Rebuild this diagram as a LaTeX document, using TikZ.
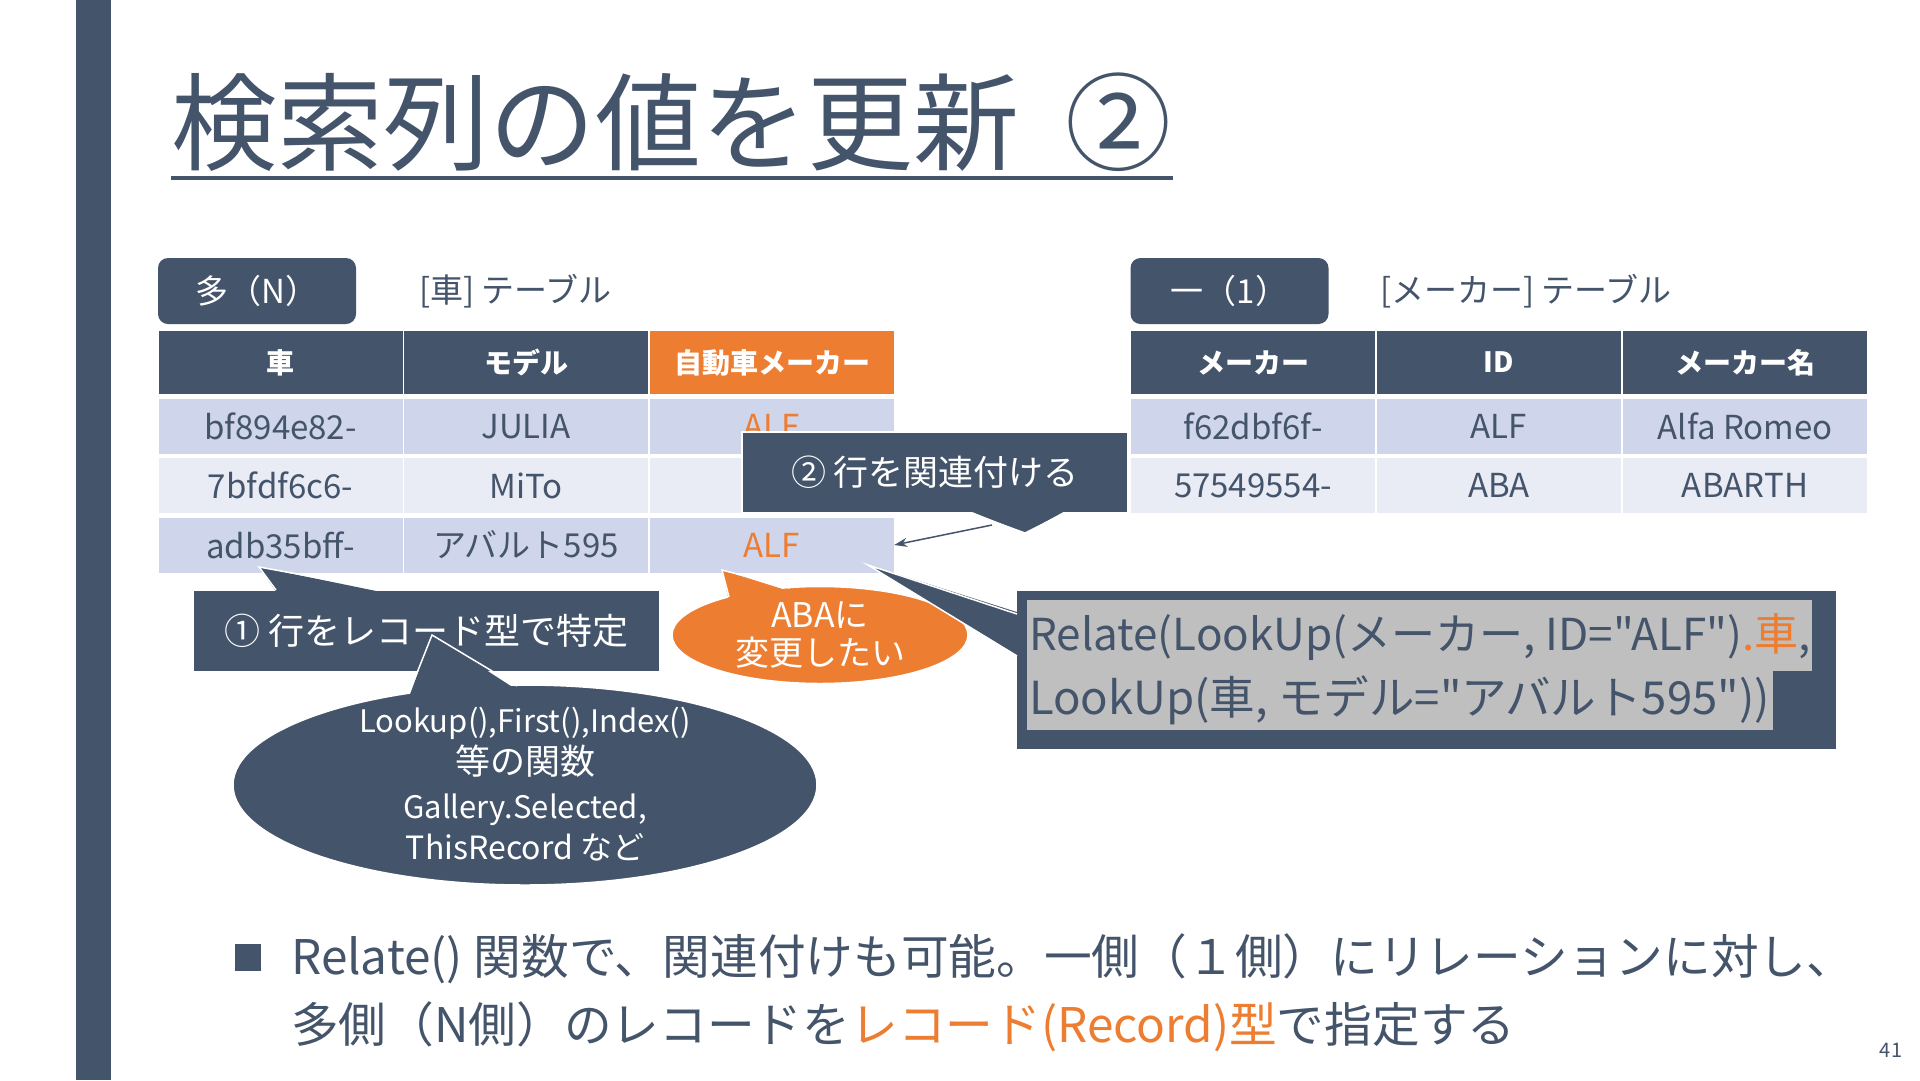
\documentclass[tikz,border=0pt]{standalone}
\usepackage{fontspec}
\setmainfont{Noto Sans CJK JP}
\newfontfamily\codefont{Noto Sans CJK JP}
\usetikzlibrary{shapes.geometric,arrows.meta}
\definecolor{slate}{HTML}{44546A}
\definecolor{accent}{HTML}{ED7D31}
\definecolor{rowA}{HTML}{CFD5EA}
\definecolor{rowB}{HTML}{E9EBF5}
\definecolor{hilite}{HTML}{BFBFBF}
\newcommand\fsz[1]{\fontsize{#1}{#1}\selectfont}
\begin{document}
\begin{tikzpicture}[x=1pt,y=-1pt,
  hdr/.style={rectangle,inner sep=0,minimum width=244,minimum height=63,fill=slate,text=white,font=\fsz{28}\bfseries},
  cellA/.style={rectangle,inner sep=0,minimum width=244,minimum height=55,fill=rowA,text=slate,font=\fsz{33}},
  cellB/.style={cellA,fill=rowB},
  tagbox/.style={rectangle,rounded corners=10,inner sep=0,minimum width=198,minimum height=66,fill=slate,text=white,font=\fsz{33}},
  caption/.style={anchor=west,inner sep=0,text=slate,font=\fsz{33}},
  callbox/.style={rectangle,inner sep=0,fill=slate,draw=white,line width=1.5,text=white},
  outl/.style={draw=white,line width=1.5},
  bodytext/.style={anchor=west,inner sep=0,text=slate,font=\fsz{47.7}},
  codetext/.style={anchor=west,inner sep=0,text=slate,font=\codefont\fsz{44}},
  ell/.style={ellipse,inner sep=0,draw=white,line width=1.5}
]
\useasboundingbox (0,0) rectangle (1920,1080);
\fill[white] (0,0) rectangle (1920,1080);
\fill[slate] (76,0) rectangle (111,1080);

% title
\node[anchor=base west,inner sep=0,text=slate,font=\fsz{106}] (title) at (171,162) {検索列の値を更新\hspace{46pt}②};
\draw[slate,line width=4] (171,178) -- (1173,178);

% tags and captions
\node[tagbox] (tagN) at (257,291) {多（N）};
\node[caption] (capL) at (419,291) {[車] テーブル};
\node[tagbox] (tag1) at (1229.5,291) {一（1）};
\node[caption] (capR) at (1380,291) {[メーカー] テーブル};

% left table
\node[hdr] (L1) at (280.5,362.5) {車};
\node[hdr] (L2) at (526,362.5) {モデル};
\node[hdr,fill=accent] (L3) at (772,362.5) {自動車メーカー};
\node[cellA] (L11) at (280.5,426.5) {bf894e82-};
\node[cellA] (L12) at (526,426.5) {JULIA};
\node[cellA,text=accent] (L13) at (772,426.5) {ALF};
\node[cellB] (L21) at (280.5,485.5) {7bfdf6c6-};
\node[cellB] (L22) at (526,485.5) {MiTo};
\node[cellB] (L23) at (772,485.5) {};
\node[cellA] (L31) at (280.5,545) {adb35bff-};
\node[cellA] (L32) at (526,545) {アバルト595};
\node[cellA,text=accent] (L33) at (772,545) {ALF};

% right table
\node[hdr] (R1) at (1253,362.5) {メーカー};
\node[hdr] (R2) at (1499,362.5) {ID};
\node[hdr] (R3) at (1745,362.5) {メーカー名};
\node[cellA] (R11) at (1253,426.5) {f62dbf6f-};
\node[cellA] (R12) at (1499,426.5) {ALF};
\node[cellA] (R13) at (1745,426.5) {Alfa Romeo};
\node[cellB] (R21) at (1253,485.5) {57549554-};
\node[cellB] (R22) at (1499,485.5) {ABA};
\node[cellB] (R23) at (1745,485.5) {ABARTH};

% callout 2
\node[callbox,minimum width=386,minimum height=81,font=\fsz{35}] (c2) at (935,472.5) {② 行を関連付ける};
\fill[slate] (970,511) -- (1025,533) -- (1065,511) -- cycle;
\draw[outl] (970,513) -- (1025,533) -- (1065,513);
\coordinate (a2s) at (992,525);
\draw[slate,line width=1.5,-{Stealth[length=13,width=9]}] (a2s) -- (L33.east);

% orange ellipse
\node[ell,fill=accent,minimum width=296,minimum height=97,text=white,font=\fsz{34},align=center] (ob) at (820,635) {ABAに\\[4pt]変更したい};
\fill[accent] (729,601) -- (722,570) -- (792,592) -- cycle;
\draw[outl] (729,597) -- (722,570) -- (790,588);

% Relate box
\node[callbox,minimum width=821,minimum height=160] (rb) at (1426.5,670) {};
\fill[slate] (1020,613) -- (868,565) -- (1020,657) -- cycle;
\draw[outl] (1017,614) -- (868,565) -- (1017,656);
\fill[hilite] (1027,600) rectangle (1812,671);
\fill[hilite] (1027,671) rectangle (1773,730);
\node[codetext] (rl1) at (1029,637) {Relate(LookUp(メーカー, ID="ALF")\textcolor{accent}{.車},};
\node[codetext,font=\codefont\fsz{45.5}] (rl2) at (1029,700) {LookUp(車, モデル="アバルト595"))};

% callout 1
\node[callbox,minimum width=467,minimum height=82,font=\fsz{36}] (c1) at (426.5,631) {① 行をレコード型で特定};
\fill[slate] (277,593) -- (259,567) -- (386,593) -- cycle;
\draw[outl] (276,590) -- (259,567) -- (386,590);

% dark ellipse
\node[ell,fill=slate,minimum width=584,minimum height=200] (de) at (525,785) {};
\fill[slate] (409,697) -- (432,635) -- (517,690) -- cycle;
\draw[outl] (409,693) -- (432,635) -- (517,686);
\node[text=white,inner sep=0,font=\fsz{31}] (de1) at (525,723) {Lookup(),First(),Index()};
\node[text=white,inner sep=0,font=\fsz{35}] (de2) at (525,761) {等の関数};
\node[text=white,inner sep=0,font=\fsz{31}] (de3) at (525,810) {Gallery.Selected,};
\node[text=white,inner sep=0,font=\fsz{32}] (de4) at (525,847) {ThisRecord など};

% bottom bullet
\fill[slate] (235,944) rectangle (261,971);
\node[bodytext] (b1) at (291,959) {Relate() 関数で、関連付けも可能。一側（１側）にリレーションに対し、};
\node[bodytext] (b2) at (291,1027) {多側（N側）のレコードを\textcolor{accent}{レコード(Record)型}で指定する};

\node[text=slate,inner sep=0,font=\fsz{20}] (pg) at (1891,1050) {41};
\end{tikzpicture}
\end{document}
